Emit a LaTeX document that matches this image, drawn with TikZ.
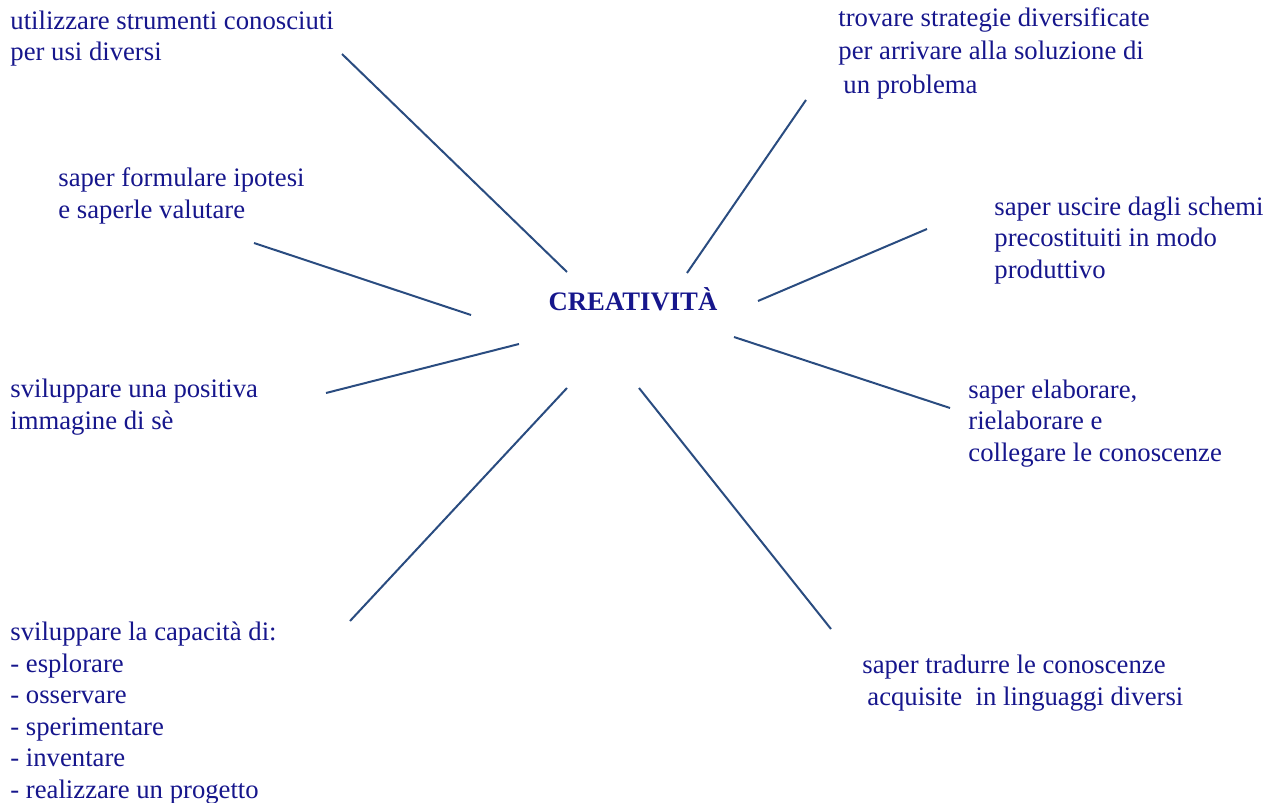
\documentclass[tikz,border=0pt]{standalone}
\usepackage{fontspec}
\setmainfont{Liberation Serif}
\usepackage{xcolor}
\definecolor{mapblue}{RGB}{22,22,140}
\definecolor{spokeblue}{RGB}{42,76,128}

\begin{document}
\begin{tikzpicture}[x=0.5pt,y=-0.5pt,
  idea/.style={anchor=base west,align=left,inner sep=0pt,text=mapblue,
    font=\fontsize{13.35}{15.75}\selectfont},
  hub/.style={anchor=base,inner sep=0pt,text=mapblue,
    font=\fontsize{13.35}{15.75}\selectfont\bfseries},
  spoke/.style={spokeblue,line width=1pt}]
  \useasboundingbox (0,0) rectangle (1266,803);

  \node[hub] (hub) at (633,310) {CREATIVITÀ};

  % ideas, placed by the baseline of their last line
  \node[idea] (tools) at (10,61) {utilizzare strumenti conosciuti\\per usi diversi};
  \node[idea,font=\fontsize{13.35}{16.75}\selectfont] (strategy) at (838,93) {trovare strategie diversificate\\per arrivare alla soluzione di\\\hspace*{2.5pt}un problema};
  \node[idea] (hypo) at (58,218) {saper formulare ipotesi\\e saperle valutare};
  \node[idea] (schemes) at (994,278) {saper uscire dagli schemi\\precostituiti in modo\\produttivo};
  \node[idea] (self) at (10,429) {sviluppare una positiva\\immagine di sè};
  \node[idea] (elab) at (968,461) {saper elaborare,\\rielaborare e\\collegare le conoscenze};
  \node[idea] (skills) at (10,798) {sviluppare la capacità di:\\- esplorare\\- osservare\\- sperimentare\\- inventare\\- realizzare un progetto};
  \node[idea] (translate) at (862,705) {saper tradurre le conoscenze\\\hspace*{2.5pt}acquisite\ \ in linguaggi diversi};

  % spoke ends
  \coordinate (tools-in) at (567,272);     \coordinate (tools-out) at (342,54);
  \coordinate (strategy-in) at (687,273);  \coordinate (strategy-out) at (806,100);
  \coordinate (hypo-in) at (471,315);      \coordinate (hypo-out) at (254,243);
  \coordinate (schemes-in) at (758,301);   \coordinate (schemes-out) at (927,229);
  \coordinate (self-in) at (519,344);      \coordinate (self-out) at (326,393);
  \coordinate (elab-in) at (734,337);      \coordinate (elab-out) at (950,408);
  \coordinate (skills-in) at (567,388);    \coordinate (skills-out) at (350,621);
  \coordinate (translate-in) at (639,388); \coordinate (translate-out) at (831,629);

  \draw[spoke] (tools-in) -- (tools-out);
  \draw[spoke] (strategy-in) -- (strategy-out);
  \draw[spoke] (hypo-in) -- (hypo-out);
  \draw[spoke] (schemes-in) -- (schemes-out);
  \draw[spoke] (self-in) -- (self-out);
  \draw[spoke] (elab-in) -- (elab-out);
  \draw[spoke] (skills-in) -- (skills-out);
  \draw[spoke] (translate-in) -- (translate-out);
\end{tikzpicture}
\end{document}
